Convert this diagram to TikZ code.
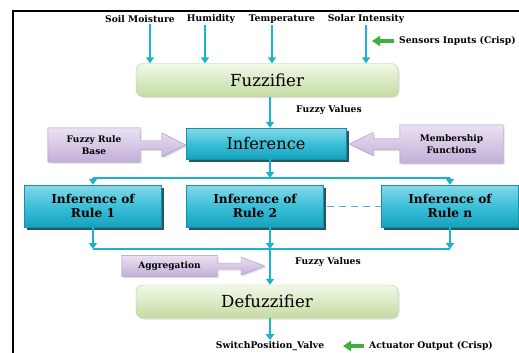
\documentclass[tikz,border=0pt]{standalone}
\usepackage{fontspec}
\setmainfont{DejaVu Serif}
\usetikzlibrary{arrows.meta,calc,shadows,backgrounds}

\definecolor{flowcyan}{HTML}{1AB2CF}
\definecolor{boxtop}{HTML}{86D8E8}
\definecolor{boxmid}{HTML}{3CC0D8}
\definecolor{boxbot}{HTML}{14A2BE}
\definecolor{boxline}{HTML}{1590A8}
\definecolor{boxshade}{HTML}{2A5560}
\definecolor{greentop}{HTML}{F1F8E8}
\definecolor{greenbot}{HTML}{C4DCA2}
\definecolor{greenline}{HTML}{B2CE8E}
\definecolor{lilactop}{HTML}{EAE2F2}
\definecolor{lilacbot}{HTML}{C3AED8}
\definecolor{lilacline}{HTML}{A58EC2}
\definecolor{signgreen}{HTML}{3DB03F}
\definecolor{dashblue}{HTML}{5AA8D8}

\tikzset{
	lbl/.style={font=\bfseries\fontsize{9.2}{11}\selectfont, inner sep=1pt},
	stagebox/.style={draw=greenline, top color=greentop, bottom color=greenbot,
		rounded corners=7pt, minimum width=262pt, minimum height=33pt,
		font=\fontsize{16.6}{18}\selectfont,
		drop shadow={opacity=0.25, shadow xshift=1.5pt, shadow yshift=-1.5pt}},
	infbox/.style={draw=boxline, top color=boxtop, bottom color=boxbot, middle color=boxmid,
		drop shadow={fill=boxshade, opacity=1, shadow xshift=2.5pt, shadow yshift=-2.5pt}},
	rulebox/.style={infbox, minimum width=137pt, minimum height=42pt, align=center,
		font=\bfseries\fontsize{12.2}{14}\selectfont},
	lilac/.style={draw=lilacline, top color=lilactop, bottom color=lilacbot,
		drop shadow={opacity=0.25, shadow xshift=1.5pt, shadow yshift=-1.5pt}},
	lilacbox/.style={align=center, inner sep=0pt, font=\bfseries\fontsize{9}{11.5}\selectfont},
	flow/.style={draw=flowcyan, line width=1.3pt, -{Triangle[width=8pt,length=6pt]}},
	bus/.style={draw=flowcyan, line width=1.3pt},
	sign/.style={draw=signgreen, line width=3.5pt, -{Triangle[width=10pt,length=8pt]}},
	dashline/.style={draw=dashblue, line width=0.9pt, dash pattern=on 7pt off 5pt}
}

% lilac box with a fat arrow out of one side
% #1 box, #2 far side, #3 near side, #4 tip, #5 shaft half width, #6 head half width
\newcommand{\fatarrow}[6]{%
	\begin{pgfonlayer}{background}
		\path[lilac] let \p1=(#1.#3), \p2=(#4), \p3=($(#4)!24pt!(#1.#3)$) in
			(#1.north #2) -- (#1.north #3) -- (\x1,\y1+#5) -- (\x3,\y1+#5) -- (\x3,\y1+#6)
			-- (\x2,\y1) -- (\x3,\y1-#6) -- (\x3,\y1-#5) -- (\x1,\y1-#5)
			-- (#1.south #3) -- (#1.south #2) -- cycle;
	\end{pgfonlayer}}

\begin{document}
\begin{tikzpicture}[x=1pt, y=-1pt]
		\useasboundingbox (0,0) rectangle (519,353);

		%% Frame
		\draw[line width=1.5pt] (13,353) -- (13,11) -- (519,11);

		% SENSORS
		\node[lbl] (soil) at (140,19) {Soil Moisture};
		\node[lbl] (humid) at (211,19) {Humidity};
		\node[lbl] (temp) at (282,19) {Temperature};
		\node[lbl] (solar) at (366,19) {Solar Intensity};
		\node[lbl, anchor=west] (sensin) at (398,41) {Sensors Inputs (Crisp)};
		\coordinate (senstip) at (372,41);
		\draw[sign] ([xshift=-4pt]sensin.west) -- (senstip);

		% FUZZIFIER
		\node[stagebox] (fuzz) at (267,80) {Fuzzifier};
		\draw[flow] ([xshift=10pt]soil.south) -- ([xshift=10pt]soil.south |- fuzz.north);
		\draw[flow] ([xshift=-6pt]humid.south) -- ([xshift=-6pt]humid.south |- fuzz.north);
		\draw[flow] ([xshift=-10pt]temp.south) -- ([xshift=-10pt]temp.south |- fuzz.north);
		\draw[flow] (solar.south) -- (solar.south |- fuzz.north);

		% INFERENCE
		\coordinate (split) at (270,178);
		\coordinate (merge) at (270,249);
		\node[infbox, minimum width=160pt, minimum height=31pt, font=\fontsize{16.2}{18}\selectfont] (inf) at (266,143.5) {Inference};
		\draw[flow] (fuzz.south -| split) -- (inf.north -| split);
		\node[lbl] (fv1) at (329,110) {Fuzzy Values};

		\node[lilacbox, minimum width=92pt, minimum height=34pt] (base) at (94,145) {Fuzzy Rule\\Base};
		\fatarrow{base}{west}{east}{inf.west}{4.5pt}{12pt}
		\node[lilacbox, minimum width=103pt, minimum height=38pt] (memb) at (451.5,144) {Membership\\Functions};
		\fatarrow{memb}{east}{west}{[xshift=3pt]inf.east}{5.5pt}{11.5pt}

		% RULES
		\node[rulebox] (r1) at (93,206) {Inference of\\Rule 1};
		\node[rulebox] (r2) at (255,206) {Inference of\\Rule 2};
		\node[rulebox] (rn) at (450,206) {Inference of\\Rule n};
		\draw[dashline] ([xshift=3pt]r2.east) -- (rn.west);

		\draw[flow] (inf.south -| split) -- (split);
		\draw[bus] (r1.north |- split) -- (rn.north |- split);
		\draw[flow] (r1.north |- split) -- (r1.north);
		\draw[flow] (rn.north |- split) -- (rn.north);

		\draw[flow] (r1.south) -- (r1.south |- merge);
		\draw[flow] (r2.south -| merge) -- (merge);
		\draw[flow] (rn.south) -- (rn.south |- merge);
		\draw[bus] (r1.south |- merge) -- (rn.south |- merge);

		% AGGREGATION
		\node[lbl] (fv2) at (328,262) {Fuzzy Values};
		\node[lilacbox, minimum width=95pt, minimum height=21pt] (agg) at (169.5,266) {Aggregation};
		\coordinate (aggtip) at ([xshift=-5pt]merge |- agg.east);
		\fatarrow{agg}{west}{east}{aggtip}{3pt}{9pt}

		% DEFUZZIFIER
		\node[stagebox] (defuzz) at (267,301.5) {Defuzzifier};
		\draw[flow] (merge) -- (merge |- defuzz.north);
		\node[lbl] (valve) at (270,346) {SwitchPosition\_Valve};
		\draw[flow] (defuzz.south -| merge) -- (valve.north);
		\node[lbl, anchor=west] (actout) at (368,346) {Actuator Output (Crisp)};
		\coordinate (acttip) at (343,346);
		\draw[sign] ([xshift=-4pt]actout.west) -- (acttip);
	\end{tikzpicture}
\end{document}
